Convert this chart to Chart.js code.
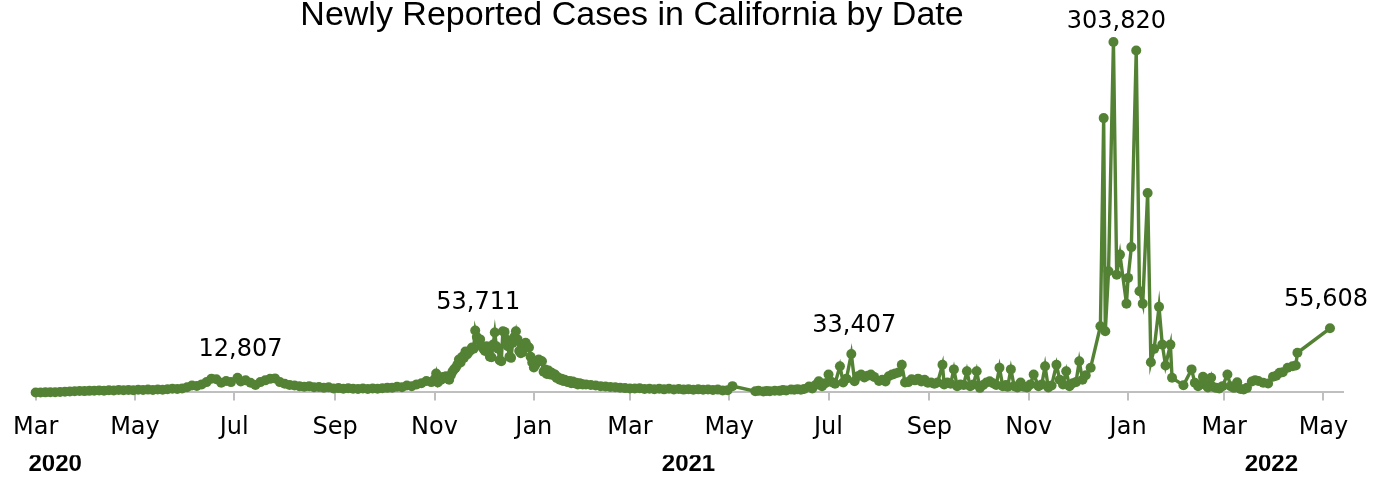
<!DOCTYPE html>
<html>
<head>
<meta charset="utf-8">
<script src="https://cdn.jsdelivr.net/npm/chart.js@4.4.1/dist/chart.umd.min.js"></script>
<style>
html,body{margin:0;padding:0;background:#fff;}
#wrap{width:1386px;height:478px;position:relative;}
</style>
</head>
<body>
<div id="wrap"><canvas id="c" width="1386" height="478"></canvas></div>
<script>
const chartTitle = 'Newly Reported Cases in California by Date';

const reportDates = [
  '2020-03-01','2020-03-04','2020-03-07','2020-03-10','2020-03-13','2020-03-16','2020-03-19','2020-03-22','2020-03-25','2020-03-28','2020-03-31',
  '2020-04-03','2020-04-06','2020-04-09','2020-04-12','2020-04-15','2020-04-18','2020-04-21','2020-04-24','2020-04-27','2020-04-30',
  '2020-05-03','2020-05-06','2020-05-09','2020-05-12','2020-05-15','2020-05-18','2020-05-21','2020-05-24','2020-05-27','2020-05-30',
  '2020-06-02','2020-06-05','2020-06-08','2020-06-11','2020-06-14','2020-06-17','2020-06-20','2020-06-23','2020-06-26','2020-06-29',
  '2020-07-03','2020-07-05','2020-07-08','2020-07-11','2020-07-14','2020-07-17','2020-07-20','2020-07-23','2020-07-26','2020-07-29',
  '2020-08-01','2020-08-04','2020-08-07','2020-08-10','2020-08-13','2020-08-16','2020-08-19','2020-08-22','2020-08-25','2020-08-28','2020-08-31',
  '2020-09-03','2020-09-06','2020-09-09','2020-09-12','2020-09-15','2020-09-18','2020-09-21','2020-09-24','2020-09-27','2020-09-30',
  '2020-10-03','2020-10-06','2020-10-09','2020-10-12','2020-10-15','2020-10-18','2020-10-21','2020-10-24','2020-10-27','2020-10-30',
  '2020-11-01','2020-11-02','2020-11-03','2020-11-04','2020-11-05','2020-11-06','2020-11-07','2020-11-08','2020-11-09','2020-11-10',
  '2020-11-11','2020-11-12','2020-11-13','2020-11-14','2020-11-15','2020-11-16','2020-11-17','2020-11-18','2020-11-19','2020-11-20',
  '2020-11-21','2020-11-22','2020-11-23','2020-11-24','2020-11-25','2020-11-26','2020-11-27','2020-11-28','2020-11-29','2020-11-30',
  '2020-12-01','2020-12-02','2020-12-03','2020-12-04','2020-12-05','2020-12-06','2020-12-07','2020-12-08','2020-12-09','2020-12-10',
  '2020-12-11','2020-12-12','2020-12-13','2020-12-14','2020-12-15','2020-12-16','2020-12-17','2020-12-18','2020-12-19','2020-12-20',
  '2020-12-21','2020-12-22','2020-12-23','2020-12-24','2020-12-25','2020-12-26','2020-12-27','2020-12-28','2020-12-29','2020-12-30','2020-12-31',
  '2021-01-01','2021-01-02','2021-01-03','2021-01-04','2021-01-05','2021-01-06','2021-01-07','2021-01-08','2021-01-09','2021-01-10',
  '2021-01-11','2021-01-12','2021-01-13','2021-01-14','2021-01-15','2021-01-16','2021-01-17','2021-01-18','2021-01-19','2021-01-20',
  '2021-01-21','2021-01-22','2021-01-23','2021-01-24','2021-01-25','2021-01-26','2021-01-27','2021-01-28','2021-01-29','2021-01-30','2021-01-31',
  '2021-02-02','2021-02-05','2021-02-08','2021-02-11','2021-02-14','2021-02-17','2021-02-20','2021-02-23','2021-02-26',
  '2021-03-01','2021-03-04','2021-03-07','2021-03-10','2021-03-13','2021-03-16','2021-03-19','2021-03-22','2021-03-25','2021-03-28','2021-03-31',
  '2021-04-03','2021-04-06','2021-04-09','2021-04-12','2021-04-15','2021-04-18','2021-04-21','2021-04-24','2021-04-27','2021-04-30',
  '2021-05-03',
  '2021-05-17','2021-05-19','2021-05-22','2021-05-24','2021-05-26','2021-05-29',
  '2021-06-01','2021-06-03','2021-06-05','2021-06-08','2021-06-10','2021-06-12','2021-06-14','2021-06-16','2021-06-19','2021-06-21','2021-06-23','2021-06-25','2021-06-27','2021-06-29',
  '2021-07-01','2021-07-03','2021-07-05','2021-07-08','2021-07-10','2021-07-12','2021-07-15','2021-07-17','2021-07-19','2021-07-21','2021-07-23','2021-07-25','2021-07-27','2021-07-29',
  '2021-08-01','2021-08-03','2021-08-05','2021-08-07','2021-08-09','2021-08-11','2021-08-13','2021-08-15','2021-08-17','2021-08-19','2021-08-21','2021-08-23','2021-08-25','2021-08-27','2021-08-29','2021-08-31',
  '2021-09-02','2021-09-04','2021-09-06','2021-09-09','2021-09-10','2021-09-12','2021-09-14','2021-09-16','2021-09-18','2021-09-20','2021-09-22','2021-09-24','2021-09-26','2021-09-28','2021-09-30',
  '2021-10-02','2021-10-04','2021-10-06','2021-10-08','2021-10-10','2021-10-12','2021-10-14','2021-10-16','2021-10-18','2021-10-19','2021-10-21','2021-10-23','2021-10-25','2021-10-27','2021-10-29','2021-10-31',
  '2021-11-02','2021-11-04','2021-11-07','2021-11-09','2021-11-11','2021-11-13','2021-11-15','2021-11-18','2021-11-20','2021-11-22','2021-11-24','2021-11-26','2021-11-28','2021-11-30',
  '2021-12-02','2021-12-04','2021-12-06','2021-12-09',
  '2021-12-15','2021-12-17','2021-12-18','2021-12-20','2021-12-23','2021-12-25','2021-12-27','2021-12-31',
  '2022-01-01','2022-01-03','2022-01-06','2022-01-08','2022-01-10','2022-01-13','2022-01-15','2022-01-17','2022-01-20','2022-01-22','2022-01-24','2022-01-27','2022-01-28',
  '2022-02-04','2022-02-09','2022-02-11','2022-02-13','2022-02-16','2022-02-17','2022-02-19','2022-02-21','2022-02-22','2022-02-24','2022-02-26','2022-02-28',
  '2022-03-03','2022-03-05','2022-03-07','2022-03-09','2022-03-11','2022-03-13','2022-03-15','2022-03-18','2022-03-20','2022-03-22','2022-03-25','2022-03-28','2022-03-31',
  '2022-04-02','2022-04-04','2022-04-06','2022-04-09','2022-04-12','2022-04-14','2022-04-15',
  '2022-05-05'
];

const newCases = [
  20,50,100,180,300,450,700,900,1100,1300,1200,
  1400,1500,1800,1600,2000,1700,2100,1900,2200,2000,
  2300,2100,2500,2200,2600,2400,2800,3200,3000,3400,
  4500,6000,5600,7000,9000,12000,11500,8500,10000,9000,
  12807,9500,10500,8500,6500,9000,10500,11800,12200,9000,
  7500,6500,6000,5500,5000,5500,4500,4800,4200,4500,3500,
  3800,3200,3600,3300,3000,3500,3100,3400,3200,3600,
  4000,4200,5000,4500,6000,5500,7000,8000,10000,9000,
  11500,16500,8700,12000,11000,13500,12500,14000,13000,11000,
  15000,18000,20000,21500,24000,28500,26000,31000,30000,35500,
  33000,35000,36500,39000,38000,53711,48000,45000,46000,40000,
  38000,36000,40000,37000,31000,30500,41500,52000,40000,38000,
  28000,27000,53000,52500,46000,40000,31000,30000,43000,48000,
  53000,46000,36000,34000,35000,42000,43000,40000,39000,31000,26000,
  21600,24000,27000,28600,27500,27000,18000,20000,16000,19000,
  15600,17000,15000,15600,12500,13000,11000,12000,10000,11000,
  9500,9000,10000,8000,9500,8000,8500,7000,8000,7500,7000,
  7000,6500,6000,5500,5200,4800,4500,4200,3800,
  3500,3400,3600,3000,3300,2800,3200,2700,3300,2600,3000,
  2500,2800,2400,2700,2300,2600,2200,2500,1800,2000,
  5500,
  1100,1400,900,1300,1000,1500,
  1400,2200,1800,2600,2300,2900,2400,3000,5200,3500,6500,9800,5500,8000,
  15600,9000,7500,22800,8700,12000,33407,9800,14000,15600,13000,14500,15500,13500,
  10000,11000,9500,14000,15500,16500,17300,24000,8700,9000,11500,10500,12000,9500,11000,8500,
  8700,7500,8700,24000,7000,8700,7500,20000,5500,7000,6500,18400,5500,7000,18400,
  4000,6500,8700,9800,8000,6500,21400,5500,6500,5000,20000,5500,4300,8700,5000,4300,
  7000,15600,5500,7000,22800,4300,6000,24000,11000,7000,18400,5500,8000,9000,
  27000,11000,15000,21500,
  57400,237800,53000,105000,303820,102000,119500,77000,
  99300,126000,296400,87700,77000,172900,26200,37800,74200,41500,23400,41500,12700,
  6300,20000,8400,5500,13600,7000,4300,12700,5000,4000,3500,5500,
  15600,5500,4000,8900,3000,2600,4000,9500,10700,10000,8500,7800,13600,
  14500,17000,17500,21400,22800,23400,34400,
  55608
];

const monthTickDates = ['2020-03-01','2020-05-01','2020-07-01','2020-09-01','2020-11-01','2021-01-01','2021-03-01','2021-05-01','2021-07-01','2021-09-01','2021-11-01','2022-01-01','2022-03-01','2022-05-01'];
const monthTickLabels = ['Mar','May','Jul','Sep','Nov','Jan','Mar','May','Jul','Sep','Nov','Jan','Mar','May'];
const yearTickDates = ['2020-03-13','2021-04-06','2022-03-30'];
const yearTickLabels = ['2020','2021','2022'];
const labelledDates = ['2020-07-03','2020-11-26','2021-07-15','2021-12-23','2022-05-05'];
const axisStartDate = '2020-03-01';
const axisEndDate = '2022-05-13';

const GREEN = '#548235';
const dayIndex = d => (Date.parse(d) - Date.parse(axisStartDate)) / 864e5;
const fmt = v => String(v).replace(/\B(?=(\d{3})+(?!\d))/g, ',');

const points = reportDates.map((d, i) => ({ x: dayIndex(d), y: newCases[i] }));

const titlePlugin = {
  id: 'customTitle',
  afterDraw(chart) {
    const ctx = chart.ctx;
    ctx.save();
    ctx.font = '34px "Liberation Sans"';
    ctx.fillStyle = '#000';
    ctx.textAlign = 'center';
    ctx.textBaseline = 'alphabetic';
    ctx.fillText(chartTitle, 632, 25);
    ctx.restore();
  }
};

const valueLabelPlugin = {
  id: 'valueLabels',
  afterDatasetsDraw(chart) {
    const meta = chart.getDatasetMeta(0);
    const ctx = chart.ctx;
    ctx.save();
    ctx.font = '24px "DejaVu Sans"';
    ctx.fillStyle = '#000';
    ctx.textAlign = 'center';
    ctx.textBaseline = 'alphabetic';
    labelledDates.forEach(d => {
      const i = reportDates.indexOf(d);
      if (i < 0) return;
      const pt = meta.data[i];
      const text = fmt(newCases[i]);
      const w = ctx.measureText(text).width;
      const x = Math.min(pt.x + 3, chart.width - 18 - w / 2);
      const y = Math.max(pt.y - 22, 28);
      ctx.fillText(text, x, y);
    });
    ctx.restore();
  }
};

new Chart(document.getElementById('c'), {
  type: 'line',
  data: {
    datasets: [{
      data: points,
      borderColor: GREEN,
      backgroundColor: GREEN,
      borderWidth: 3.4,
      pointRadius: 5,
      pointHoverRadius: 5,
      pointBackgroundColor: GREEN,
      pointBorderWidth: 0,
      tension: 0,
      clip: false
    }]
  },
  options: {
    responsive: false,
    animation: false,
    events: [],
    devicePixelRatio: 1,
    layout: { padding: { top: 31, left: 32, right: 43, bottom: 4 } },
    plugins: {
      legend: { display: false },
      title: { display: false },
      tooltip: { enabled: false }
    },
    scales: {
      x: {
        type: 'linear',
        position: 'bottom',
        weight: 0,
        min: dayIndex(axisStartDate),
        max: dayIndex(axisEndDate),
        offset: false,
        grid: { display: true, drawOnChartArea: false, drawTicks: true, tickLength: 8, color: '#bfbfbf', lineWidth: 2 },
        border: { display: true, color: '#bfbfbf', width: 2 },
        afterBuildTicks: scale => { scale.ticks = monthTickDates.map(d => ({ value: dayIndex(d) })); },
        ticks: {
          autoSkip: false, maxRotation: 0, minRotation: 0, padding: 13,
          color: '#000',
          font: { family: '"DejaVu Sans"', size: 24, lineHeight: 1.2 },
          callback: (v, i) => monthTickLabels[i]
        }
      },
      xYear: {
        type: 'linear',
        position: 'bottom',
        weight: 1,
        min: dayIndex(axisStartDate),
        max: dayIndex(axisEndDate),
        offset: false,
        grid: { display: false, drawTicks: false, drawOnChartArea: false },
        border: { display: false },
        afterBuildTicks: scale => { scale.ticks = yearTickDates.map(d => ({ value: dayIndex(d) })); },
        ticks: {
          autoSkip: false, maxRotation: 0, minRotation: 0, padding: 0,
          color: '#000',
          font: { family: '"Liberation Sans"', size: 24, weight: 'bold', lineHeight: 0.78 },
          callback: (v, i) => yearTickLabels[i]
        }
      },
      y: {
        display: false,
        min: 0,
        max: 313300
      }
    }
  },
  plugins: [titlePlugin, valueLabelPlugin]
});
</script>
</body>
</html>
